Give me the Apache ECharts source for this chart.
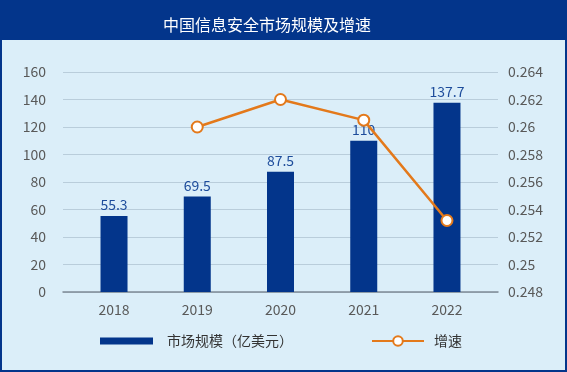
<!DOCTYPE html>
<html><head><meta charset="utf-8">
<script src="https://cdn.jsdelivr.net/npm/echarts@6/dist/echarts.min.js"></script>
<style>html,body{margin:0;padding:0;background:#dbeef9}#c{width:567px;height:372px}</style>
</head><body><div id="c"></div>
<script>
const title = '中国信息安全市场规模及增速';
const categories = ['2018', '2019', '2020', '2021', '2022'];
const marketSize = [55.3, 69.5, 87.5, 110, 137.7];
const growth = [null, 0.26, 0.262, 0.2605, 0.2532];
const barName = '市场规模（亿美元）';
const lineName = '增速';

const darkBlue = '#03358b';
const orange = '#e3791b';
const font = '"Noto Sans CJK SC", "Noto Sans", sans-serif';

const chart = echarts.init(document.getElementById('c'));
chart.setOption({
  backgroundColor: '#dbeef9',
  animation: false,
  textStyle: { fontFamily: font },
  graphic: [
    { type: 'rect', shape: { x: 0, y: 0, width: 567, height: 40 }, style: { fill: darkBlue }, z: 0 },
    { type: 'rect', shape: { x: 1, y: 1, width: 565, height: 370 }, style: { fill: 'none', stroke: darkBlue, lineWidth: 2 }, z: 0 }
  ],
  title: {
    text: title, left: 262, top: 20, textAlign: 'center', textVerticalAlign: 'middle',
    textStyle: { color: '#ffffff', fontSize: 16, fontWeight: 'normal', fontFamily: font }
  },
  legend: [
    { data: [barName], left: 100, top: 334, padding: 0, itemWidth: 53, itemHeight: 7, icon: 'rect',
      textStyle: { color: '#333', fontSize: 14, fontFamily: font, padding: [0, 0, 0, 9] } },
    { data: [lineName], left: 371, top: 334, padding: 0, itemWidth: 52, itemHeight: 12,
      textStyle: { color: '#333', fontSize: 14, fontFamily: font, padding: [0, 0, 0, 5] } }
  ],
  grid: [
    { left: 63, right: 69, top: 72, bottom: 80 },
    { left: 72.4, right: 78.4, top: 72, bottom: 80 }
  ],
  xAxis: [
    { type: 'category', gridIndex: 0, data: [''], axisLine: { lineStyle: { color: '#7f8a96', width: 1.5 } },
      axisTick: { show: false }, axisLabel: { show: false } },
    { type: 'category', gridIndex: 1, data: categories, axisLine: { show: false }, axisTick: { show: false },
      axisLabel: { color: '#595959', fontSize: 14, margin: 11, fontFamily: font } }
  ],
  yAxis: [
    { type: 'value', gridIndex: 0, min: 0, max: 160, interval: 20,
      axisLabel: { color: '#595959', fontSize: 14, margin: 17, fontFamily: font },
      splitLine: { lineStyle: { color: '#b9cddb', width: 1 } }, axisLine: { show: false } },
    { type: 'value', gridIndex: 0, min: 0.248, max: 0.264, interval: 0.002, position: 'right',
      axisLabel: { color: '#595959', fontSize: 14, margin: 10, fontFamily: font,
        formatter: v => String(Number(v.toFixed(3))) },
      splitLine: { show: false }, axisLine: { show: false } },
    { type: 'value', gridIndex: 1, min: 0, max: 160, interval: 20, show: false },
    { type: 'value', gridIndex: 1, min: 0.248, max: 0.264, interval: 0.002, show: false }
  ],
  series: [
    { name: barName, type: 'bar', xAxisIndex: 1, yAxisIndex: 2, data: marketSize, barWidth: 27,
      itemStyle: { color: darkBlue },
      label: { show: true, position: 'top', color: '#1d4c9b', fontSize: 14, distance: 4, fontFamily: font } },
    { name: lineName, type: 'line', xAxisIndex: 1, yAxisIndex: 3, data: growth,
      symbol: 'circle', symbolSize: 11, z: 3,
      lineStyle: { color: orange, width: 2.5 },
      itemStyle: { color: '#ffffff', borderColor: orange, borderWidth: 2 } }
  ]
});
</script></body></html>
